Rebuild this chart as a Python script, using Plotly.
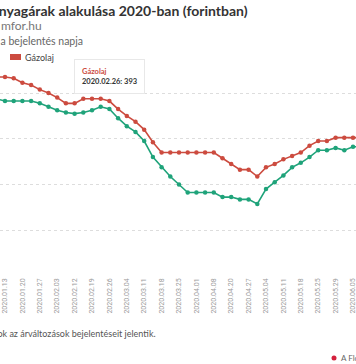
import plotly.graph_objects as go

dates = ["2020.01.09", "2020.01.13", "2020.01.16", "2020.01.20", "2020.01.23", "2020.01.27",
         "2020.01.30", "2020.02.03", "2020.02.06", "2020.02.12", "2020.02.14", "2020.02.19",
         "2020.02.21", "2020.02.26", "2020.02.28", "2020.03.04", "2020.03.06", "2020.03.11",
         "2020.03.13", "2020.03.18", "2020.03.20", "2020.03.25", "2020.03.27", "2020.04.01",
         "2020.04.03", "2020.04.08", "2020.04.15", "2020.04.20", "2020.04.22", "2020.04.27",
         "2020.04.29", "2020.05.04", "2020.05.06", "2020.05.11", "2020.05.13", "2020.05.18",
         "2020.05.20", "2020.05.25", "2020.05.27", "2020.05.29", "2020.06.03", "2020.06.05",
         "2020.06.10"]
gazolaj = [414, 414, 413, 409, 407, 403, 400, 396, 391, 391, 395, 395, 395, 393, 386, 380,
           375, 368, 357, 348, 348, 348, 348, 348, 348, 348, 343, 338, 333, 333, 327, 335,
           338, 342, 345, 348, 354, 358, 358, 361, 361, 361, 361]
benzin = [395, 393, 393, 393, 393, 391, 388, 385, 383, 382, 383, 385, 388, 386, 378, 371,
          366, 358, 344, 335, 327, 320, 313, 313, 313, 313, 309, 309, 307, 307, 303, 316,
          322, 328, 335, 339, 344, 350, 350, 352, 350, 353, 353]
tick_dates = dates[1::2]
grid_vals = [280, 320, 360, 400]

RED = "#cc4b3f"
GREEN = "#1fa37a"
W, H = 356, 364
PLOT_TOP, PLOT_BOTTOM = 60, 276

def px(x):
    return x / W

def py(y):
    return (PLOT_BOTTOM - y) / (PLOT_BOTTOM - PLOT_TOP)

fig = go.Figure()
fig.add_trace(go.Scatter(x=dates, y=benzin, mode="lines+markers", name="Benzin",
                         line=dict(color=GREEN, width=1.6), marker=dict(color=GREEN, size=4.5),
                         cliponaxis=False))
fig.add_trace(go.Scatter(x=dates, y=gazolaj, mode="lines+markers", name="Gázolaj",
                         line=dict(color=RED, width=1.6), marker=dict(color=RED, size=4.5),
                         cliponaxis=False))

font = "Lato, 'Open Sans', sans-serif"
ann = []
ann.append(dict(text="<b>Üzemanyagárak alakulása 2020-ban (forintban)</b>", x=px(-46), y=py(10),
                xref="paper", yref="paper", xanchor="left", yanchor="middle", showarrow=False,
                font=dict(family=font, size=14, color="#333333")))
ann.append(dict(text="Forrás: mfor.hu", x=px(-40), y=py(25),
                xref="paper", yref="paper", xanchor="left", yanchor="middle", showarrow=False,
                font=dict(family=font, size=12, color="#777777")))
ann.append(dict(text="Dátum: a bejelentés napja", x=px(-38), y=py(41),
                xref="paper", yref="paper", xanchor="left", yanchor="middle", showarrow=False,
                font=dict(family=font, size=10.5, color="#666666")))
ann.append(dict(text="Gázolaj", x=px(23), y=py(57),
                xref="paper", yref="paper", xanchor="left", yanchor="middle", showarrow=False,
                font=dict(family=font, size=9, color="#444444")))
ann.append(dict(text="A pontok az árváltozások bejelentéseit jelentik.", x=px(-31), y=py(333),
                xref="paper", yref="paper", xanchor="left", yanchor="middle", showarrow=False,
                font=dict(family=font, size=9, color="#555555")))
ann.append(dict(text="A Flourish chart", x=px(339), y=py(358),
                xref="paper", yref="paper", xanchor="left", yanchor="middle", showarrow=False,
                font=dict(family=font, size=8, color="#666666")))
ann.append(dict(text="<b><span style='color:%s'>Gázolaj</span></b><br><b>%s: %d</b>" % (RED, dates[13], gazolaj[13]),
                x=dates[13], y=gazolaj[13], xref="x", yref="y", showarrow=True,
                arrowcolor="rgba(0,0,0,0)", ax=0, ay=-25, align="left",
                bgcolor="white", bordercolor="#e8e8e8", borderwidth=1, borderpad=7,
                font=dict(family=font, size=7.5, color="#333333")))

shapes = [dict(type="rect", xref="paper", yref="paper", x0=px(10), x1=px(21), y0=py(60), y1=py(54),
               fillcolor=RED, line=dict(width=0))]
shapes.append(dict(type="circle", xref="paper", yref="paper", x0=px(331.5), x1=px(336.5),
                   y0=py(360.5), y1=py(355.5), fillcolor="#d4213d", line=dict(width=0)))

fig.update_layout(
    width=W, height=H,
    margin=dict(l=0, r=0, t=PLOT_TOP, b=H - PLOT_BOTTOM, pad=0),
    paper_bgcolor="white", plot_bgcolor="white",
    showlegend=False,
    annotations=ann, shapes=shapes,
    xaxis=dict(type="category", range=[0.425, 0.425 + W / 8.7], tickmode="array",
               tickvals=tick_dates, ticktext=tick_dates, tickangle=-90,
               tickfont=dict(family="Roboto, sans-serif", size=7, color="#999999"),
               showgrid=False, showline=False, zeroline=False, ticks="", automargin=False),
    yaxis=dict(range=[240, 428.9], tickmode="array", tickvals=grid_vals,
               showticklabels=False, showgrid=True, gridcolor="#dddddd", griddash="dot",
               gridwidth=1, zeroline=False, showline=False, ticks="", automargin=False),
)

fig.write_html("out.html", config={"displayModeBar": False},
               post_script="document.body.style.margin='0';document.body.style.overflow='hidden';")
